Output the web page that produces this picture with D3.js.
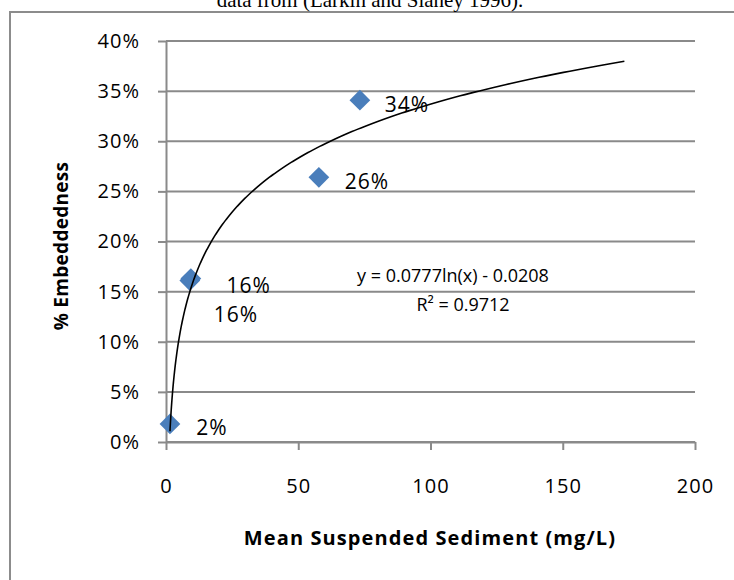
<!DOCTYPE html>
<html>
<head>
<meta charset="utf-8">
<script src="https://cdn.jsdelivr.net/npm/d3@7"></script>
<style>
  body { margin: 0; background: #fff; }
  text { font-family: "Open Sans", "Noto Sans", sans-serif; fill: #000; }
</style>
</head>
<body>
<script>
// data
var sediment = [1.5, 9.0, 9.4, 57.8, 73.3];          // mg/L
var embedded = [0.018, 0.161, 0.163, 0.264, 0.341];  // fraction
var xTicks = [0, 50, 100, 150, 200];
var yTicks = [0, 0.05, 0.10, 0.15, 0.20, 0.25, 0.30, 0.35, 0.40];
var trendA = 0.0777, trendB = -0.0208, trendR2 = 0.9712;
var forecast = 100;   // trendline forward forecast

var titleText = "data from (Larkin and Slaney 1996).";
var xTitle = "Mean Suspended Sediment (mg/L)";
var yTitle = "% Embeddedness";

// layout
var W = 734, H = 580;
var plot = {left: 166, right: 695, top: 41, bottom: 442};
var labelOffsets = [[42, 3], [59, 5], [45, 36], [48, 4], [47, 4]];
var gridColor = "#8a8a8a";

var svg = d3.select("body").append("svg")
  .attr("width", W)
  .attr("height", H);

// outer frame + cut-off caption
svg.append("rect")
  .attr("x", 10).attr("y", 12)
  .attr("width", 900).attr("height", 900)
  .attr("fill", "none")
  .attr("stroke", "#8c8c8c")
  .attr("stroke-width", 2);

svg.append("text")
  .attr("x", 370).attr("y", 7)
  .attr("text-anchor", "middle")
  .style("font-family", "'Liberation Serif', serif")
  .style("font-size", "21px")
  .text(titleText);

var x = d3.scaleLinear().domain([0, 200]).range([plot.left, plot.right]);
var y = d3.scaleLinear().domain([0, 0.40]).range([plot.bottom, plot.top]);

// gridlines
svg.append("g")
  .selectAll("line")
  .data(yTicks)
  .enter()
  .append("line")
  .attr("x1", plot.left).attr("x2", plot.right)
  .attr("y1", function(d) { return y(d); })
  .attr("y2", function(d) { return y(d); })
  .attr("stroke", gridColor)
  .attr("stroke-width", 2);

// axes
var yAxis = d3.axisLeft(y)
  .tickValues(yTicks)
  .tickSizeInner(8)
  .tickSizeOuter(0)
  .tickPadding(18)
  .tickFormat(d3.format(".0%"));
var yAxisGroup = svg.append("g")
  .attr("transform", "translate(" + plot.left + ",0)")
  .call(yAxis);

var xAxis = d3.axisBottom(x)
  .tickValues(xTicks)
  .tickSizeInner(8)
  .tickSizeOuter(0)
  .tickPadding(29);
var xAxisGroup = svg.append("g")
  .attr("transform", "translate(0," + plot.bottom + ")")
  .call(xAxis);

[yAxisGroup, xAxisGroup].forEach(function(g) {
  g.select(".domain").attr("stroke", gridColor).attr("stroke-width", 2);
  g.selectAll(".tick line").attr("stroke", gridColor).attr("stroke-width", 2);
  g.selectAll(".tick text")
    .attr("fill", "#000")
    .style("font-family", "'Open Sans', sans-serif")
    .style("font-size", "20px")
    .style("letter-spacing", "1px");
});

// axis titles
svg.append("text")
  .attr("x", 430).attr("y", 545)
  .attr("text-anchor", "middle")
  .style("font-size", "20px")
  .style("font-weight", "bold")
  .style("letter-spacing", "1.1px")
  .text(xTitle);

svg.append("text")
  .attr("transform", "translate(68,246) rotate(-90)")
  .attr("text-anchor", "middle")
  .style("font-size", "19px")
  .style("font-weight", "bold")
  .style("letter-spacing", "0.3px")
  .text(yTitle);

// logarithmic trendline
var xMin = d3.min(sediment), xMax = d3.max(sediment) + forecast;
var trendPts = d3.range(0, 301).map(function(i) {
  var xv = xMin * Math.pow(xMax / xMin, i / 300);
  return [xv, trendA * Math.log(xv) + trendB];
});
var trendLine = d3.line()
  .x(function(d) { return x(d[0]); })
  .y(function(d) { return y(d[1]); });

// markers
var points = sediment.map(function(s, i) { return [s, embedded[i]]; });
svg.selectAll(".dot")
  .data(points)
  .enter()
  .append("path")
  .attr("class", "dot")
  .attr("d", d3.symbol().type(d3.symbolSquare).size(215))
  .attr("transform", function(d) {
    return "translate(" + x(d[0]) + "," + y(d[1]) + ") rotate(45)";
  })
  .attr("fill", "#4a7ebb");

svg.append("path")
  .datum(trendPts)
  .attr("fill", "none")
  .attr("stroke", "#000")
  .attr("stroke-width", 1.6)
  .attr("d", trendLine);

// data labels
svg.selectAll(".lbl")
  .data(points)
  .enter()
  .append("text")
  .attr("class", "lbl")
  .attr("x", function(d, i) { return x(d[0]) + labelOffsets[i][0]; })
  .attr("y", function(d, i) { return y(d[1]) + labelOffsets[i][1]; })
  .attr("dy", "0.36em")
  .attr("text-anchor", "middle")
  .style("font-size", "21px")
  .style("letter-spacing", "1px")
  .text(function(d) { return d3.format(".0%")(d[1]); });

// equation box
svg.append("text")
  .attr("x", 453).attr("y", 276)
  .attr("dy", "0.36em")
  .attr("text-anchor", "middle")
  .style("font-size", "18px")
  .text("y = " + trendA.toFixed(4) + "ln(x) - " + Math.abs(trendB).toFixed(4));

svg.append("text")
  .attr("x", 463).attr("y", 305)
  .attr("dy", "0.36em")
  .attr("text-anchor", "middle")
  .style("font-size", "18px")
  .text("R\u00b2 = " + trendR2.toFixed(4));
</script>
</body>
</html>
